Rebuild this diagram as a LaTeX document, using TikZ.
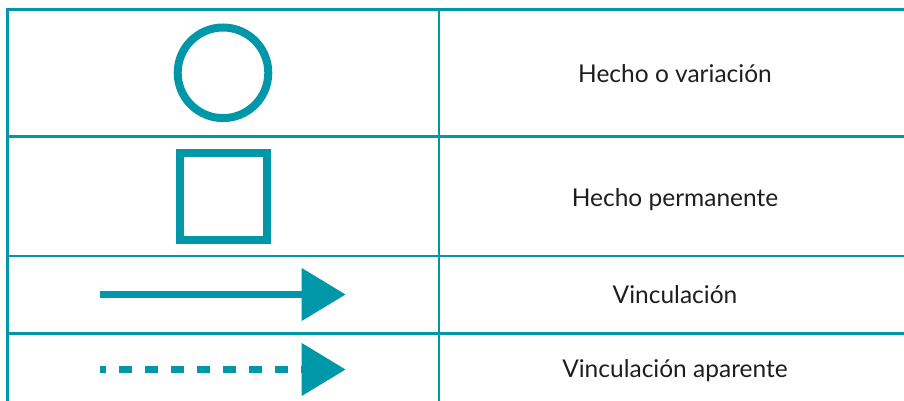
\documentclass[tikz,border=0pt]{standalone}
\usepackage{fontspec}
\setmainfont{Lato}
\usetikzlibrary{arrows.meta}
\definecolor{teal1}{HTML}{0098A8}
\definecolor{txt}{HTML}{1E1E1E}
\tikzset{
  grid/.style={draw=teal1, line width=2.5pt},
  sym/.style={draw=teal1, line width=8pt},
  lbl/.style={text=txt, font=\fontsize{24.5}{28}\selectfont, inner sep=0pt, anchor=base},
  legarrow/.style={draw=teal1, line width=7.5pt, -{Triangle[length=44pt,width=51pt]}},
}
\begin{document}
\begin{tikzpicture}[x=1pt,y=-1pt]
\useasboundingbox (0,0) rectangle (904,401);
% grid
\draw[grid] (7.5,401) -- (7.5,9.5) -- (904,9.5);
\draw[grid] (439,9.5) -- (439,401);
\draw[grid] (7.5,136.5) -- (904,136.5);
\draw[grid] (7.5,256) -- (904,256);
\draw[grid] (7.5,333.5) -- (904,333.5);
% symbols
\node[sym, circle, minimum size=90.6pt, inner sep=0pt] (circ) at (223,72.8) {};
\node[sym, rectangle, minimum width=86.7pt, minimum height=86.7pt, inner sep=0pt] (sq) at (223.3,196.4) {};
\coordinate (a1s) at (100,294.5);
\coordinate (a1e) at (345.7,294.5);
\draw[legarrow] (a1s) -- (a1e);
\coordinate (a2s) at (100,369.5);
\coordinate (a2e) at (345.7,369.5);
\draw[legarrow, dash pattern=on 12.7pt off 13.3pt, dash phase=6.7pt] (a2s) -- (a2e);
% labels
\node[lbl] (t1) at (675,82.3) {Hecho o variación};
\node[lbl] (t2) at (675,206.7) {Hecho permanente};
\node[lbl] (t3) at (675,303.3) {Vinculación};
\node[lbl] (t4) at (675,377.7) {Vinculación aparente};
\end{tikzpicture}
\end{document}
